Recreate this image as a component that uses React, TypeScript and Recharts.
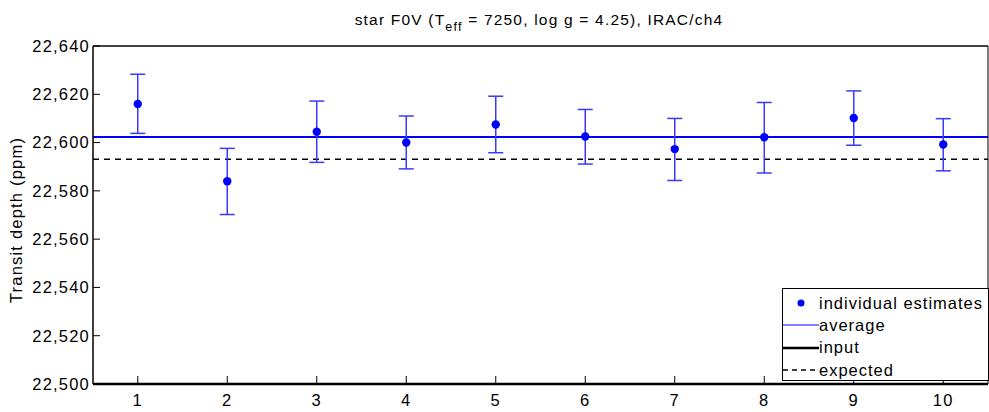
import { ComposedChart, Scatter, ErrorBar, XAxis, YAxis, ReferenceLine, Label } from 'recharts';

const runs = [1, 2, 3, 4, 5, 6, 7, 8, 9, 10];
const estimates = [22616, 22584, 22604.5, 22600, 22607.5, 22602.5, 22597.3, 22602.2, 22610.2, 22599.2];
const upper = [22628.3, 22597.6, 22617.2, 22611, 22619.2, 22613.7, 22610, 22616.6, 22621.4, 22609.9];
const lower = [22603.8, 22570.2, 22591.8, 22589.1, 22595.8, 22591.1, 22584.3, 22587.4, 22598.9, 22588.3];
const averageDepth = 22602.3;
const expectedDepth = 22593.1;
const inputDepth = 22500;
const yTicks = [22500, 22520, 22540, 22560, 22580, 22600, 22620, 22640];

const data = runs.map((run, i) => ({
  run,
  depth: estimates[i],
  err: [estimates[i] - lower[i], upper[i] - estimates[i]],
}));

const FONT = '"Liberation Sans", Arial, sans-serif';
const BLUE = '#0000ff';
const fmt = (v: number) => v.toLocaleString('en-US');

function LegendBox() {
  const rows = [
    { label: 'individual estimates', kind: 'dot' },
    { label: 'average', kind: 'blue' },
    { label: 'input', kind: 'black' },
    { label: 'expected', kind: 'dash' },
  ];
  return (
    <div
      style={{
        position: 'absolute',
        left: 782,
        top: 288,
        width: 207,
        height: 93,
        border: '1px solid #000',
        background: '#fff',
        fontFamily: FONT,
        fontSize: 16.5,
        letterSpacing: 1,
        paddingTop: 3,
        boxSizing: 'border-box',
      }}
    >
      {rows.map((r) => (
        <div key={r.label} style={{ display: 'flex', alignItems: 'center', height: 22.3 }}>
          <svg width={36} height={12} style={{ marginRight: 0 }}>
            {r.kind === 'dot' && <circle cx={18} cy={6} r={3.5} fill={BLUE} />}
            {r.kind === 'blue' && <line x1={0} x2={36} y1={6} y2={6} stroke={BLUE} strokeWidth={1.2} />}
            {r.kind === 'black' && <line x1={0} x2={36} y1={6} y2={6} stroke="#000" strokeWidth={2.5} />}
            {r.kind === 'dash' && <line x1={0} x2={36} y1={6} y2={6} stroke="#000" strokeWidth={1.5} strokeDasharray="5 4" />}
          </svg>
          <span>{r.label}</span>
        </div>
      ))}
    </div>
  );
}

export default function App() {
  return (
    <div style={{ position: 'absolute', left: 0, top: 0, width: 989, height: 412, background: '#fff' }}>
      <svg width={989} height={40} style={{ position: 'absolute', left: 0, top: 0 }}>
        <text x={539} y={25} textAnchor="middle" fontFamily={FONT} fontSize={15.5} letterSpacing={1.2} fill="#000">
          <tspan>star F0V (T</tspan>
          <tspan dy={6} fontSize={12.5}>eff</tspan>
          <tspan dy={-6}> = 7250, log g = 4.25), IRAC/ch4</tspan>
        </text>
      </svg>
      <ComposedChart
        width={989}
        height={412}
        data={data}
        margin={{ top: 45, right: 0, bottom: 0, left: 8 }}
        style={{ fontFamily: FONT }}
      >
        <XAxis
          xAxisId="bottom"
          dataKey="run"
          type="number"
          domain={[0.5, 10.5]}
          ticks={runs}
          height={28}
          tickSize={-8}
          tickMargin={18}
          tick={{ fontSize: 16.5, fill: '#000', letterSpacing: 1.2 }}
          axisLine={{ stroke: '#000', strokeWidth: 1.5 }}
          tickLine={{ stroke: '#000' }}
        />
        <XAxis
          xAxisId="top"
          orientation="top"
          dataKey="run"
          type="number"
          domain={[0.5, 10.5]}
          ticks={runs}
          height={1}
          tickSize={-8}
          tick={false}
          axisLine={{ stroke: '#000', strokeWidth: 1.5 }}
          tickLine={{ stroke: '#000' }}
        />
        <YAxis
          yAxisId="left"
          type="number"
          domain={[22500, 22640]}
          ticks={yTicks}
          width={85}
          tickSize={-7}
          tickMargin={10}
          tickFormatter={fmt}
          tick={{ fontSize: 16.5, fill: '#000', letterSpacing: 1.2 }}
          axisLine={{ stroke: '#000', strokeWidth: 1.5 }}
          tickLine={{ stroke: '#000' }}
        >
          <Label
            content={({ viewBox }: any) => {
              const cy = viewBox.y + viewBox.height / 2 + 5;
              return (
                <text
                  x={16}
                  y={cy}
                  transform={`rotate(-90 16 ${cy})`}
                  textAnchor="middle"
                  dominantBaseline="central"
                  fontFamily={FONT}
                  fontSize={16.5}
                  letterSpacing={1.2}
                  fill="#000"
                >
                  Transit depth (ppm)
                </text>
              );
            }}
          />
        </YAxis>
        <YAxis
          yAxisId="right"
          orientation="right"
          type="number"
          domain={[22500, 22640]}
          ticks={yTicks}
          width={1}
          tickSize={-7}
          tick={false}
          axisLine={{ stroke: '#000', strokeWidth: 1 }}
          tickLine={{ stroke: '#000' }}
        />
        <ReferenceLine xAxisId="bottom" yAxisId="left" y={averageDepth} stroke={BLUE} strokeWidth={2} />
        <ReferenceLine xAxisId="bottom" yAxisId="left" y={expectedDepth} stroke="#000" strokeWidth={1.5} strokeDasharray="6 5" />
        <ReferenceLine xAxisId="bottom" yAxisId="left" y={inputDepth} stroke="#000" strokeWidth={2.5} />
        <Scatter
          xAxisId="bottom"
          yAxisId="left"
          dataKey="depth"
          fill={BLUE}
          isAnimationActive={false}
          shape={(p: any) => <circle cx={p.cx} cy={p.cy} r={4.2} fill={BLUE} />}
        >
          <ErrorBar dataKey="err" direction="y" width={7.5} stroke="#3a3aff" strokeWidth={1.5} isAnimationActive={false} />
        </Scatter>
      </ComposedChart>
      <LegendBox />
    </div>
  );
}
